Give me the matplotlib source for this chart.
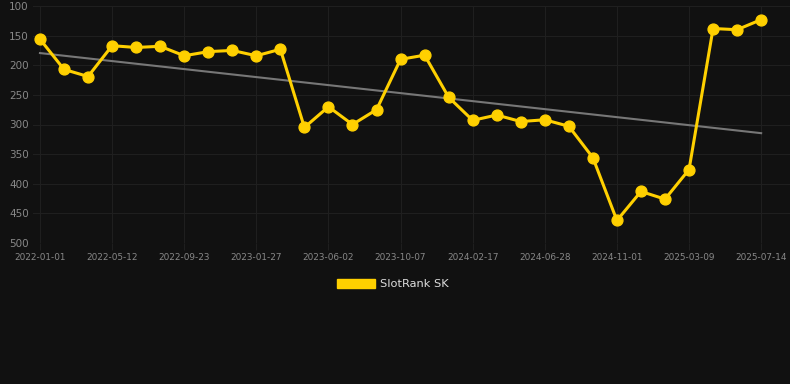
import matplotlib
matplotlib.use("Agg")
import matplotlib.pyplot as plt
from matplotlib.patches import Patch
import numpy as np

# rank per period (lower is better, axis inverted)
ranks = [156, 207, 219, 167, 170, 168, 184, 177, 175, 184, 173,
         305, 270, 300, 275, 190, 183, 254, 293, 284, 295, 292,
         303, 356, 462, 413, 426, 376, 138, 140, 123]
tick_labels = ['2022-01-01', '2022-05-12', '2022-09-23', '2023-01-27', '2023-06-02',
               '2023-10-07', '2024-02-17', '2024-06-28', '2024-11-01', '2025-03-09',
               '2025-07-14']
series_name = 'SlotRank SK'

bg = '#111111'
gold = '#FFD000'
x = np.arange(len(ranks))

fig = plt.figure(figsize=(7.9, 3.84), dpi=100, facecolor=bg)
ax = fig.add_axes([33/790, 1 - 243/384, 1 - 33/790, (243 - 6)/384], facecolor=bg)

# trend line (least squares)
k, b = np.polyfit(x, ranks, 1)
ax.plot([x[0], x[-1]], [k*x[0] + b, k*x[-1] + b], color='#777777', lw=1.5, zorder=2)

ax.plot(x, ranks, color=gold, lw=2.2, marker='o', markersize=7.8, zorder=3)

ax.set_ylim(500, 100)
ax.set_xlim(-0.29, 31.2)
ax.set_yticks([100, 150, 200, 250, 300, 350, 400, 450, 500])
ax.set_xticks(x[::3])
ax.set_xticklabels(tick_labels)

ax.grid(True, color='#1f1f1f', lw=0.8)
for s in ax.spines.values():
    s.set_visible(False)
ax.tick_params(axis='x', colors='#1f1f1f', labelcolor='#888888', labelsize=6.4, length=5, pad=2)
ax.tick_params(axis='y', length=0, labelcolor='#888888', labelsize=7.5, pad=3)

fig.legend(handles=[Patch(facecolor=gold, edgecolor=gold)], labels=[series_name],
           loc='center', bbox_to_anchor=(393/790, 1 - 284/384), frameon=False,
           handlelength=3.3, handleheight=0.95, fontsize=8.2,
           labelcolor='#dddddd', handletextpad=0.5)

fig.savefig('out.png', dpi=100, facecolor=bg)
